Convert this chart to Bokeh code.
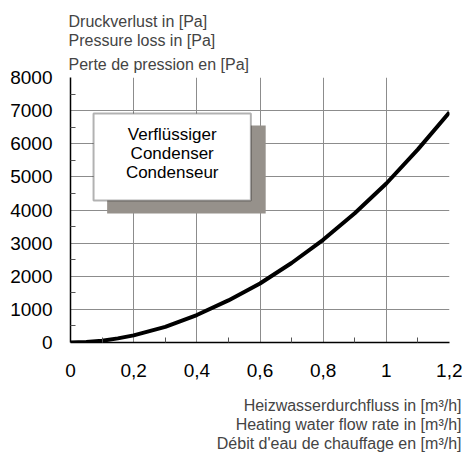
from bokeh.plotting import figure
from bokeh.models import (Range1d, FixedTicker, CustomJSTickFormatter, Title,
                          BoxAnnotation, Label)
from bokeh.embed import file_html
from bokeh.resources import INLINE

# data
flow = [0.0, 0.05, 0.1, 0.15, 0.2, 0.3, 0.4, 0.5, 0.6, 0.7, 0.8, 0.9, 1.0, 1.1, 1.2]
pressure = [0, 15, 55, 125, 215, 470, 830, 1270, 1780, 2400, 3100, 3900, 4800, 5830, 6950]
x_ticks = [0, 0.2, 0.4, 0.6, 0.8, 1.0, 1.2]
x_minor = [0.1, 0.3, 0.5, 0.7, 0.9, 1.1]
y_ticks = [0, 1000, 2000, 3000, 4000, 5000, 6000, 7000, 8000]
y_minor = [500, 1500, 2500, 3500, 4500, 5500, 6500, 7500]
y_title = ["Druckverlust in [Pa]", "Pressure loss in [Pa]", "Perte de pression en [Pa]"]
x_title = ["Heizwasserdurchfluss in [m³/h]", "Heating water flow rate in [m³/h]",
           "Débit d'eau de chauffage en [m³/h]"]
box_lines = ["Verflüssiger", "Condenser", "Condenseur"]

FONT = "Liberation Sans"
W, H = 462, 452

p = figure(width=W, height=H, output_backend="svg", toolbar_location=None,
           x_range=Range1d(0, 1.2), y_range=Range1d(0, 8000),
           min_border_left=70, min_border_right=13, min_border_top=77,
           min_border_bottom=110)
p.title.visible = False
p.outline_line_color = None
p.background_fill_color = "white"
p.border_fill_color = "white"

p.xaxis.ticker = FixedTicker(ticks=x_ticks, minor_ticks=x_minor)
p.yaxis.ticker = FixedTicker(ticks=y_ticks, minor_ticks=y_minor)
p.xaxis.formatter = CustomJSTickFormatter(
    code="return (Math.round(tick*10)/10).toString().replace('.', ',');")
p.yaxis.formatter = CustomJSTickFormatter(code="return Math.round(tick).toString();")

for ax in (p.xaxis, p.yaxis):
    ax.axis_line_color = "black"
    ax.axis_line_width = 1.5
    ax.major_tick_in = 0
    ax.major_tick_out = 0
    ax.minor_tick_in = 5
    ax.minor_tick_out = 0
    ax.minor_tick_line_color = "#555555"
    ax.major_label_text_font = FONT
    ax.major_label_text_font_size = "19px"
    ax.major_label_text_color = "black"
p.xaxis.major_label_standoff = 21
p.yaxis.major_label_standoff = 18

p.xgrid.ticker = FixedTicker(ticks=x_ticks)
p.ygrid.ticker = FixedTicker(ticks=y_ticks)
p.grid.grid_line_color = "#8c8c8c"
p.grid.grid_line_width = 1

# curve
p.line(flow, pressure, line_color="black", line_width=4, line_join="round")

# label box with shadow (annotation, data coords)
p.add_layout(BoxAnnotation(left=0.116, right=0.618, bottom=3894, top=6551,
                           fill_color="#96918b", fill_alpha=1, line_color=None,
                           editable=False))
p.add_layout(BoxAnnotation(left=0.073, right=0.571, bottom=4287, top=6913,
                           fill_color="white", fill_alpha=1, line_color="black",
                           line_width=2))
box_cx = 0.322
box_y = [6270, 5700, 5140]
for t, yy in zip(box_lines, box_y):
    p.add_layout(Label(x=box_cx, y=yy, text=t, text_align="center",
                       text_baseline="middle", text_font=FONT,
                       text_font_size="17px", text_color="black"))

# y title (above, stacked: first added is nearest plot)
for i, t in enumerate(reversed(y_title)):
    p.add_layout(Title(text=t, align="left", text_font=FONT, text_font_size="16px",
                       text_font_style="normal", offset=-2,
                       standoff=10 if i == 0 else 0), "above")

# x title (below): spacer then three lines
p.add_layout(Title(text=" ", text_font_size="1px", standoff=12), "below")
for t in x_title:
    p.add_layout(Title(text=t, align="right", text_font=FONT, text_font_size="16px",
                       text_font_style="normal", offset=-12, standoff=0), "below")

open("out.html", "w").write(file_html(p, INLINE))
